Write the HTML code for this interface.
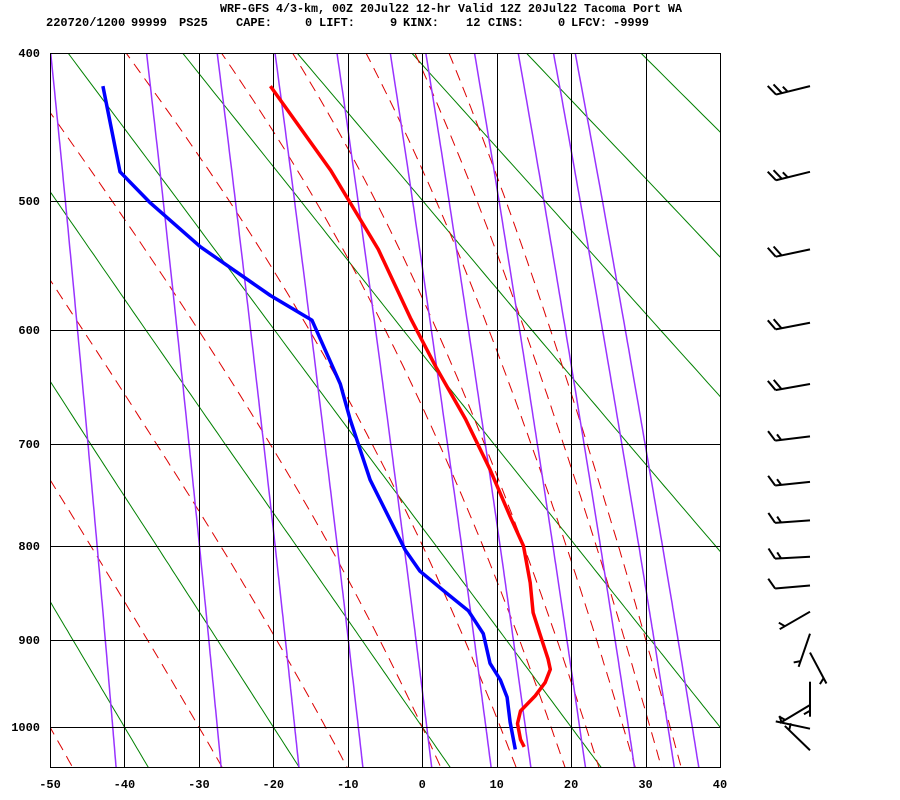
<!DOCTYPE html>
<html><head><meta charset="utf-8"><title>Skew-T sounding, Tacoma Port WA</title>
<style>
html,body{margin:0;padding:0;background:#fff;}
svg{display:block;}
text{font-family:"Liberation Mono",monospace;font-weight:bold;fill:#000;}
</style></head>
<body>
<svg id="chart" width="900" height="800" viewBox="0 0 900 800" xmlns="http://www.w3.org/2000/svg">
  <rect x="0" y="0" width="900" height="800" fill="#fff"/>
  <text x="220" y="12" font-size="12" textLength="462" lengthAdjust="spacingAndGlyphs">WRF-GFS 4/3-km, 00Z 20Jul22 12-hr Valid 12Z 20Jul22 Tacoma Port WA</text>
  <g font-size="12">
    <text x="46" y="26">220720/1200</text>
    <text x="131" y="26">99999</text>
    <text x="179" y="26">PS25</text>
    <text x="236" y="26">CAPE:</text>
    <text x="305" y="26">0</text>
    <text x="319" y="26">LIFT:</text>
    <text x="390" y="26">9</text>
    <text x="403" y="26">KINX:</text>
    <text x="466" y="26">12</text>
    <text x="488" y="26">CINS:</text>
    <text x="558" y="26">0</text>
    <text x="571" y="26">LFCV:</text>
    <text x="613" y="26">-9999</text>
  </g>
  <defs><clipPath id="plotclip"><rect x="50" y="53" width="670" height="714"/></clipPath></defs>
  <g id="bg-lines" clip-path="url(#plotclip)"></g>
  <g id="grid"></g>
  <g id="soundings" clip-path="url(#plotclip)"></g>
  <g id="axes"></g>
  <g id="barbs"></g>
</svg>
<script>
// ---- data ----
const pressureTicks = [400, 500, 600, 700, 800, 900, 1000];
const tempTicks = [-50, -40, -30, -20, -10, 0, 10, 20, 30, 40];
const dryAdiabatTheta = [-40, -20, 0, 20, 40, 60, 80, 100, 120];
const moistAdiabatT1000 = [-50, -30, -13, 0, 10.5, 17.3, 22, 27, 30.6, 33.3];
const mixingRatios = [0.1, 0.4, 1, 2, 4, 7, 10, 16, 24, 33, 40];
const tempP = [421, 478, 536, 590, 632, 677, 724, 770, 800, 838, 870, 893, 921, 933, 948, 963, 981, 996, 1015, 1024];
const tempT = [-20.4, -12.3, -5.9, -1.6, 1.9, 5.8, 9.1, 11.8, 13.6, 14.5, 14.9, 15.8, 16.9, 17.2, 16.5, 15.2, 13.2, 12.8, 13.2, 13.7];
const dewP = [421, 479, 501, 534, 550, 572, 592, 646, 677, 734, 804, 826, 848, 868, 893, 926, 945, 965, 994, 1027];
const dewT = [-42.9, -40.6, -36.6, -29.8, -25.8, -20.4, -14.8, -11.0, -9.7, -7.0, -2.3, -0.3, 3.1, 6.2, 8.2, 9.1, 10.5, 11.4, 11.8, 12.5];
const windP = [421, 479, 536, 594, 646, 693, 736, 774, 811, 841, 869, 893, 914, 947, 974, 1002, 1028];
const windDir = [256, 256, 258, 259, 260, 263, 264, 266, 267, 265, 240, 199, 152, 180, 239, 282, 314];
const windSpd = [25, 25, 20, 20, 20, 15, 15, 15, 15, 10, 5, 5, 5, 5, 5, 5, 5];

// ---- scales ----
const NS = "http://www.w3.org/2000/svg";
const X0 = 50, X1 = 720, Y0 = 53, Y1 = 767;
const anchorY = [53, 201, 330, 444, 546, 640, 727];
const K = 0.286;
function xT(t) { return X0 + (t + 50) * (X1 - X0) / 90; }
function yP(p) {
  const k = Math.pow(p, K);
  const ks = pressureTicks.map(v => Math.pow(v, K));
  let i = 0;
  while (i < ks.length - 2 && k > ks[i + 1]) i++;
  return anchorY[i] + (k - ks[i]) / (ks[i + 1] - ks[i]) * (anchorY[i + 1] - anchorY[i]);
}
function mk(tag, attrs, parent) {
  const e = document.createElementNS(NS, tag);
  for (const k in attrs) e.setAttribute(k, attrs[k]);
  parent.appendChild(e);
  return e;
}
function es(tc) { return 6.112 * Math.exp(17.67 * tc / (tc + 243.5)); }
const presList = [];
for (let p = 380; p <= 1070; p += 5) presList.push(p);

const bg = document.getElementById('bg-lines');
dryAdiabatTheta.forEach(th => {
  const pts = presList.map(p => xT((th + 273.15) * Math.pow(p / 1000, K) - 273.15).toFixed(1) + ',' + yP(p).toFixed(1));
  const el = mk('polyline', {points: pts.join(' '), fill: 'none', stroke: '#008000', 'stroke-width': 1}, bg);
  
  
});
function thetaE(T, p) {
  const e = es(T - 273.15);
  const rs = 0.622 * e / (p - e);
  return T * Math.pow(1000 / p, K) * Math.exp(2.5e6 * rs / (1004 * T));
}
moistAdiabatT1000.forEach(t0 => {
  const target = thetaE(t0 + 273.15, 1000);
  const pts = presList.map(p => {
    let lo = 150, hi = 330;
    for (let i = 0; i < 40; i++) { const m = (lo + hi) / 2; if (thetaE(m, p) > target) hi = m; else lo = m; }
    return xT(lo - 273.15).toFixed(1) + ',' + yP(p).toFixed(1);
  });
  const el = mk('polyline', {points: pts.join(' '), fill: 'none', stroke: '#dd0000', 'stroke-width': 1, 'stroke-dasharray': '11 7'}, bg);
  
  
});
mixingRatios.forEach(w => {
  const pts = presList.map(p => {
    const e = w * p / (622 + w);
    const l = Math.log(e / 6.112);
    const td = l * 243.5 / (17.67 - l);
    return xT(td).toFixed(1) + ',' + yP(p).toFixed(1);
  });
  const el = mk('polyline', {points: pts.join(' '), fill: 'none', stroke: '#9933ff', 'stroke-width': 1.5}, bg);
  
  
});

const grid = document.getElementById('grid');
pressureTicks.forEach(p => {
  const el = mk('line', {x1: X0, x2: X1, y1: Math.round(yP(p)) + 0.5, y2: Math.round(yP(p)) + 0.5, stroke: '#000', 'stroke-width': 1}, grid);
  
  
});
tempTicks.forEach(t => {
  const el = mk('line', {x1: Math.round(xT(t)) + 0.5, x2: Math.round(xT(t)) + 0.5, y1: Y0, y2: Y1, stroke: '#000', 'stroke-width': 1}, grid);
  
  
});
const frame = mk('rect', {x: X0 + 0.5, y: Y0 + 0.5, width: X1 - X0, height: Y1 - Y0, fill: 'none', stroke: '#000', 'stroke-width': 1}, grid);



const snd = document.getElementById('soundings');
const tl = mk('polyline', {points: tempP.map((p, i) => xT(tempT[i]).toFixed(1) + ',' + yP(p).toFixed(1)).join(' '), fill: 'none', stroke: '#ff0000', 'stroke-width': 3.5, 'stroke-linejoin': 'round'}, snd);


const dl = mk('polyline', {points: dewP.map((p, i) => xT(dewT[i]).toFixed(1) + ',' + yP(p).toFixed(1)).join(' '), fill: 'none', stroke: '#0000ff', 'stroke-width': 3.5, 'stroke-linejoin': 'round'}, snd);



const axes = document.getElementById('axes');
pressureTicks.forEach(p => {
  const el = mk('text', {x: 40, y: yP(p) + 4, 'text-anchor': 'end', 'font-size': 12}, axes);
  el.textContent = String(p);
  
  
});
tempTicks.forEach(t => {
  const el = mk('text', {x: xT(t), y: 788, 'text-anchor': 'middle', 'font-size': 12}, axes);
  el.textContent = String(t);
  
  
});

const barbs = document.getElementById('barbs');
windP.forEach((p, i) => {
  const sx = 810, sy = yP(p);
  const a = windDir[i] * Math.PI / 180;
  const dx = Math.sin(a), dy = -Math.cos(a);
  const L = 35;
  const tx = sx + dx * L, ty = sy + dy * L;
  const g = mk('g', {stroke: '#000', 'stroke-width': 2, fill: 'none'}, barbs);
  
  
  mk('line', {x1: sx, y1: sy, x2: tx, y2: ty}, g);
  const c = Math.cos(Math.PI / 3), s = Math.sin(Math.PI / 3);
  const rx = dx * c - dy * s, ry = dx * s + dy * c;
  let spd = windSpd[i], k = 0;
  while (spd >= 10) {
    const bx = tx - dx * k * 6, by = ty - dy * k * 6;
    mk('line', {x1: bx, y1: by, x2: bx + rx * 12, y2: by + ry * 12}, g);
    spd -= 10; k++;
  }
  if (spd >= 5) {
    if (k === 0) k = 1;
    const bx = tx - dx * k * 6, by = ty - dy * k * 6;
    mk('line', {x1: bx, y1: by, x2: bx + rx * 7, y2: by + ry * 7}, g);
  }
});
</script>
</body></html>
